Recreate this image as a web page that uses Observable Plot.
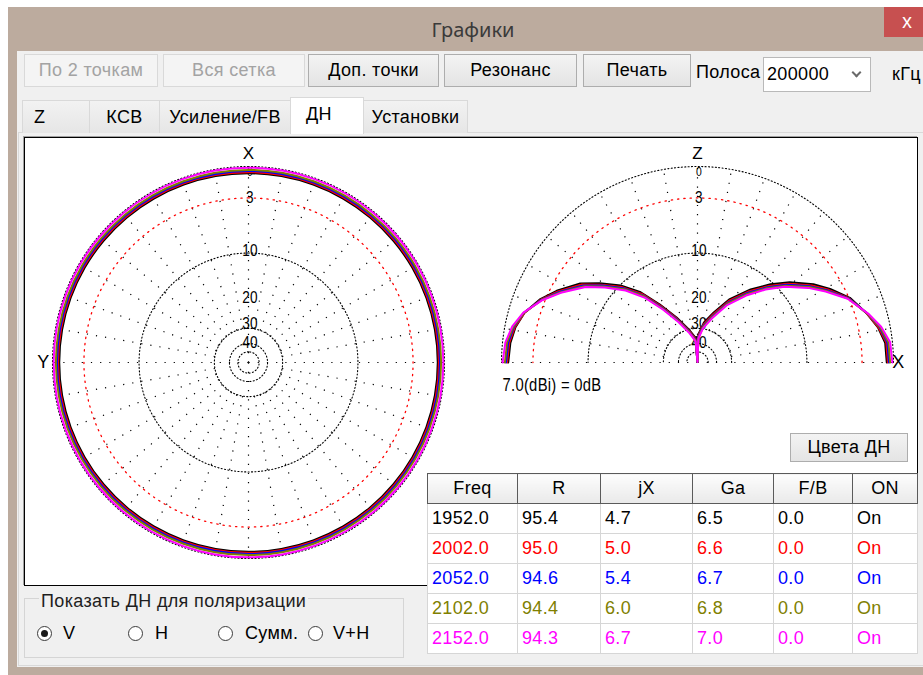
<!DOCTYPE html>
<html><head><meta charset="utf-8">
<script src="https://cdn.jsdelivr.net/npm/d3@7"></script>
<script src="https://cdn.jsdelivr.net/npm/@observablehq/plot@0.6"></script>
<style>
html,body{margin:0;padding:0}
body{width:923px;height:675px;overflow:hidden;background:#fff;position:relative;font-family:"Liberation Sans",Arial,sans-serif;font-size:18px;letter-spacing:0.35px;color:#000}
.a{position:absolute;white-space:nowrap;box-sizing:border-box}
.btn{top:54px;height:33px;border:1px solid #adadad;background:linear-gradient(#f3f3f3,#e4e4e4);text-align:center;line-height:31px}
.btn.dis{border-color:#d9d9d9;background:#f4f4f4;color:#a3a3a3}
.tab{top:100px;height:33px;border:1px solid #d9d9d9;border-bottom:none;background:linear-gradient(#f2f2f2,#e6e6e6);text-align:center;line-height:33px}
.tab.act{top:97px;height:37px;background:#fff;z-index:3;line-height:32px;text-align:left;padding-left:15px}
#tbl{position:absolute;left:427px;top:473px;border-collapse:collapse;background:#fff;z-index:4;border:1px solid #9a9a9a}
#tbl th{height:29px;border:1px solid #5a5a5a;background:linear-gradient(#fdfdfd,#e9e9e9);font-weight:normal;text-align:center;padding:0}
#tbl td{height:29px;border:1px solid #d6d6d6;padding:0 0 0 4px}
.radio{width:15px;height:15px;border:1px solid #3c3c3c;border-radius:50%;background:#fff;top:626px}
.radio.on::after{content:"";position:absolute;left:3px;top:3px;width:7px;height:7px;border-radius:50%;background:#1a1a1a}
</style></head>
<body>
<div class="a" style="left:8px;top:7px;width:940px;height:668px;background:#bcab9e"></div>
<div class="a" style="left:0;top:15px;width:946px;text-align:center;font-family:'Noto Sans','Open Sans',sans-serif;font-size:20px;letter-spacing:0;color:#3a3a3a;line-height:30px">Графики</div>
<div class="a" style="left:884px;top:7px;width:46px;height:30px;background:#c75050;color:#fff;text-align:center;line-height:28px;font-size:19px;letter-spacing:0;font-family:'Noto Sans',sans-serif">x</div>
<div class="a" style="left:17px;top:51px;width:930px;height:616px;background:#f0f0f0"></div>

<div class="a btn dis" style="left:24px;width:134px">По 2 точкам</div>
<div class="a btn dis" style="left:163px;width:142px">Вся сетка</div>
<div class="a btn" style="left:308px;width:131px">Доп. точки</div>
<div class="a btn" style="left:444px;width:133px">Резонанс</div>
<div class="a btn" style="left:583px;width:108px">Печать</div>
<div class="a" style="left:696px;top:60px;line-height:24px">Полоса</div>
<div class="a" style="left:763px;top:57px;width:108px;height:35px;border:1px solid #b9b9b9;background:#fff;padding-left:3px;line-height:33px">200000</div>
<div class="a" style="left:853px;top:69px;width:7px;height:7px;border-right:2px solid #6a6a6a;border-bottom:2px solid #6a6a6a;transform:rotate(45deg)"></div>
<div class="a" style="left:892px;top:62px;line-height:24px">кГц</div>

<div class="a" style="left:18px;top:132px;width:930px;height:534px;border:1px solid #d9d9d9;background:#f0f0f0"></div>
<div class="a tab" style="left:22px;width:68px;text-align:left;padding-left:11px">Z</div>
<div class="a tab" style="left:89px;width:71px">КСВ</div>
<div class="a tab" style="left:159px;width:132px">Усиление/FB</div>
<div class="a tab act" style="left:290px;width:74px">ДН</div>
<div class="a tab" style="left:363px;width:105px">Установки</div>

<div id="panel" class="a" style="left:24px;top:137px;width:894px;height:449px;border:1px solid #000;background:#fff;overflow:hidden;box-shadow:-1px -1px 0 #a0a0a0"></div>
<div class="a btn" style="left:790px;top:433px;width:118px;height:29px;line-height:27px;z-index:4">Цвета ДН</div>

<table id="tbl"><colgroup id="cols"></colgroup><thead><tr id="hdr"></tr></thead><tbody id="body"></tbody></table>

<div class="a" style="left:24px;top:598px;width:380px;height:60px;border:1px solid #d5d5d5"></div>
<div class="a" style="left:39px;top:590px;background:#f0f0f0;padding:0 2px;line-height:22px;color:#1e1e1e">Показать ДН для поляризации</div>
<div class="a radio on" style="left:37px"></div><div class="a" style="left:63px;top:622px;line-height:22px">V</div>
<div class="a radio" style="left:128px"></div><div class="a" style="left:155px;top:622px;line-height:22px">H</div>
<div class="a radio" style="left:218px"></div><div class="a" style="left:245px;top:622px;line-height:22px">Сумм.</div>
<div class="a radio" style="left:308px"></div><div class="a" style="left:333px;top:622px;line-height:22px">V+H</div>

<script>
// ---------------- data ----------------
const freqs = ["1952.0", "2002.0", "2052.0", "2102.0", "2152.0"];
const resistances = ["95.4", "95.0", "94.6", "94.4", "94.3"];
const reactances = ["4.7", "5.0", "5.4", "6.0", "6.7"];
const gains = ["6.5", "6.6", "6.7", "6.8", "7.0"];
const frontBack = ["0.0", "0.0", "0.0", "0.0", "0.0"];
const onFlags = ["On", "On", "On", "On", "On"];
const columns = ["Freq", "R", "jX", "Ga", "F/B", "ON"];
const seriesColors = ["#000000", "#ff0000", "#0000ff", "#808000", "#ff00ff"];
const refGain = "7.0";

// polar grid (dB, ARRL log scale)
const ringDb = [0, -3, -10, -30, -40, -50];
const tickDb = [0, -3, -10, -20, -30, -40];
const tickLabels = ["0", "3", "10", "20", "30", "40"];

// azimuth pattern (angle from X toward Y, deg) per frequency, dB rel. 7.0 dBi
const azAngles = [0,10,20,30,40,50,60,70,80,90,100,110,120,130,140,150,160,170,180,190,200,210,220,230,240,250,260,270,280,290,300,310,320,330,340,350];
const az1952 = [-0.6,-0.6,-0.6,-0.6,-0.6,-0.6,-0.6,-0.6,-0.6,-0.6,-0.6,-0.6,-0.6,-0.6,-0.6,-0.6,-0.6,-0.6,-0.6,-0.6,-0.6,-0.6,-0.6,-0.6,-0.6,-0.6,-0.6,-0.6,-0.6,-0.6,-0.6,-0.6,-0.6,-0.6,-0.6,-0.6];
const az2002 = [-0.5,-0.5,-0.5,-0.5,-0.5,-0.5,-0.5,-0.5,-0.5,-0.5,-0.5,-0.5,-0.5,-0.5,-0.5,-0.5,-0.5,-0.5,-0.5,-0.5,-0.5,-0.5,-0.5,-0.5,-0.5,-0.5,-0.5,-0.5,-0.5,-0.5,-0.5,-0.5,-0.5,-0.5,-0.5,-0.5];
const az2052 = [-0.4,-0.4,-0.4,-0.4,-0.4,-0.4,-0.4,-0.4,-0.4,-0.4,-0.4,-0.4,-0.4,-0.4,-0.4,-0.4,-0.4,-0.4,-0.4,-0.4,-0.4,-0.4,-0.4,-0.4,-0.4,-0.4,-0.4,-0.4,-0.4,-0.4,-0.4,-0.4,-0.4,-0.4,-0.4,-0.4];
const az2102 = [-0.3,-0.3,-0.3,-0.3,-0.3,-0.3,-0.3,-0.3,-0.3,-0.3,-0.3,-0.3,-0.3,-0.3,-0.3,-0.3,-0.3,-0.3,-0.3,-0.3,-0.3,-0.3,-0.3,-0.3,-0.3,-0.3,-0.3,-0.3,-0.3,-0.3,-0.3,-0.3,-0.3,-0.3,-0.3,-0.3];
const az2152 = [-0.1,-0.1,-0.1,-0.1,-0.1,-0.1,-0.1,-0.1,-0.1,-0.1,-0.1,-0.1,-0.1,-0.1,-0.1,-0.1,-0.1,-0.1,-0.1,-0.1,-0.1,-0.1,-0.1,-0.1,-0.1,-0.1,-0.1,-0.1,-0.1,-0.1,-0.1,-0.1,-0.1,-0.1,-0.1,-0.1];

// elevation pattern (angle from +X through Z, deg) per frequency, dB rel. 7.0 dBi
const elAngles = [0, 6, 11, 16, 23, 29, 34, 41, 47, 54, 63, 72, 81, 88, 90, 95, 105, 115, 123, 129, 135, 141, 146, 153, 158, 164, 169, 174, 180];
const el1952 = [-0.6, -0.65, -1.1, -1.8, -2.9, -4.4, -5.8, -8.1, -10.4, -13.3, -17.4, -22.6, -27.2, -33.2, -99, -35.4, -29.8, -23.6, -17.9, -13.3, -10.1, -7.6, -5.6, -3.7, -2.5, -1.45, -0.95, -0.7, -0.6];
const el2002 = [-0.5, -0.55, -1.05, -1.8, -3.0, -4.6, -6.05, -8.4, -10.75, -13.7, -17.9, -23.2, -27.9, -34.0, -99, -36.15, -30.45, -24.1, -18.35, -13.7, -10.45, -7.9, -5.85, -3.85, -2.6, -1.45, -0.9, -0.6, -0.5];
const el2052 = [-0.4, -0.45, -0.95, -1.75, -3.05, -4.75, -6.25, -8.65, -11.05, -14.1, -18.4, -23.8, -28.6, -34.8, -99, -36.9, -31.05, -24.6, -18.8, -14.05, -10.7, -8.1, -6.05, -4.0, -2.65, -1.4, -0.8, -0.5, -0.4];
const el2102 = [-0.3, -0.35, -0.9, -1.75, -3.1, -4.85, -6.4, -8.85, -11.3, -14.4, -18.7, -24.2, -29.1, -35.4, -99, -37.45, -31.5, -24.95, -19.1, -14.3, -10.95, -8.3, -6.2, -4.1, -2.7, -1.4, -0.75, -0.4, -0.3];
const el2152 = [-0.1, -0.2, -0.8, -1.7, -3.15, -5.0, -6.6, -9.1, -11.6, -14.8, -19.2, -24.8, -29.8, -36.2, -99, -38.2, -32.1, -25.45, -19.5, -14.7, -11.25, -8.55, -6.4, -4.2, -2.75, -1.35, -0.65, -0.25, -0.1];

const azSeries = [az1952, az2002, az2052, az2102, az2152];
const elSeries = [el1952, el2002, el2052, el2102, el2152];

// ---------------- table ----------------
const colWidths = [90, 83, 92, 81, 79, 65];
const cols = document.getElementById("cols");
colWidths.forEach(w => { const c = document.createElement("col"); c.style.width = w + "px"; cols.appendChild(c); });
const hdr = document.getElementById("hdr");
columns.forEach(c => { const th = document.createElement("th"); th.textContent = c; hdr.appendChild(th); });
const tbody = document.getElementById("body");
freqs.forEach((f, i) => {
  const tr = document.createElement("tr");
  [f, resistances[i], reactances[i], gains[i], frontBack[i], onFlags[i]].forEach(v => {
    const td = document.createElement("td"); td.textContent = v; td.style.color = seriesColors[i]; tr.appendChild(td);
  });
  tbody.appendChild(tr);
});

// ---------------- polar charts ----------------
const SIZE = 448, RPX = 196, D = (SIZE / 2) / RPX;
const rOf = db => Math.pow(0.89, -db / 2);
function polar(angleDeg, db, orient) {
  const a = angleDeg * Math.PI / 180, r = rOf(db);
  return orient === "az" ? {x: -r * Math.sin(a), y: r * Math.cos(a)} : {x: r * Math.cos(a), y: r * Math.sin(a)};
}
const labelFont = '"Liberation Sans",Arial,sans-serif';
const tickDy = [5, 0, -3, -4, -5, -1];
const tickSize = [13, 17, 17, 17, 17, 17];

function gridMarks(orient) {
  const maxAng = orient === "az" ? 360 : 180;
  const ringPts = [];
  for (const db of ringDb) for (let a = 0; a <= maxAng; a += 1) ringPts.push({db, ...polar(a, db, orient)});
  const spokes = [];
  for (let a = 0; a < (orient === "az" ? 360 : 181); a += 10) {
    const p0 = polar(a, a % 90 === 0 ? -200 : -30, orient), p1 = polar(a, 0, orient);
    spokes.push({x1: p0.x, y1: p0.y, x2: p1.x, y2: p1.y});
  }
  const marks = [
    Plot.link(spokes, {x1: "x1", y1: "y1", x2: "x2", y2: "y2", stroke: "#000", strokeWidth: 1.2, strokeDasharray: "1.2,8"}),
    Plot.line(ringPts.filter(d => d.db !== -3), {x: "x", y: "y", z: "db", stroke: "#000", strokeWidth: 1.1, strokeDasharray: "1.1,2.3"}),
    Plot.line(ringPts.filter(d => d.db === -3), {x: "x", y: "y", z: "db", stroke: "#ff0000", strokeWidth: 1.3, strokeDasharray: "1.3,5"})
  ];
  tickDb.forEach((db, i) => {
    marks.push(Plot.text([db], {x: () => 0, y: d => rOf(d), text: () => tickLabels[i], dx: 1.5, dy: tickDy[i], fill: "#000", fontSize: tickSize[i]}));
  });
  return marks;
}

function chart(orient) {
  const marks = gridMarks(orient);
  if (orient === "az") {
    marks.push(Plot.text(["X"], {frameAnchor: "top", dy: 8, text: d => d, fontSize: 17, textAnchor: "middle"}));
    marks.push(Plot.text(["Y"], {frameAnchor: "left", dx: 19, text: d => d, fontSize: 18, textAnchor: "middle"}));
    azSeries.forEach((vals, i) => {
      const pts = azAngles.map((a, j) => polar(a, vals[j], "az"));
      marks.push(Plot.line(pts, {x: "x", y: "y", stroke: seriesColors[i], strokeWidth: 2, curve: "catmull-rom-closed"}));
    });
  } else {
    marks.push(Plot.text(["Z"], {frameAnchor: "top", dy: 8, text: d => d, fontSize: 17, textAnchor: "middle"}));
    marks.push(Plot.text(["X"], {frameAnchor: "right", dx: -23, text: d => d, fontSize: 18, textAnchor: "middle"}));
    marks.push(Plot.text([refGain + "(dBi) = 0dB"], {frameAnchor: "left", dx: 29, dy: 23, textAnchor: "start", text: d => d, fontSize: 18.5}));
    elSeries.forEach((vals, i) => {
      const pts = elAngles.map((a, j) => polar(a, vals[j], "el"));
      marks.push(Plot.line(pts, {x: "x", y: "y", stroke: seriesColors[i], strokeWidth: 2}));
    });
  }
  const svg = Plot.plot({
    width: SIZE, height: SIZE, margin: 0,
    x: {domain: [-D, D], axis: null},
    y: {domain: [-D, D], axis: null},
    style: {background: "transparent", fontFamily: labelFont, fontSize: "17px", overflow: "visible"},
    marks
  });
  // narrow lettering like the original program (labels only, not the axis letters)
  svg.querySelectorAll("text").forEach(t => {
    if (/^[XYZ]$/.test(t.textContent)) return;
    const x = +t.getAttribute("x") || 0, y = +t.getAttribute("y") || 0;
    const tr = t.getAttribute("transform") || "";
    t.setAttribute("transform", `${tr} translate(${x},${y}) scale(0.8,1) translate(${-x},${-y})`);
  });
  return svg;
}

const panel = document.getElementById("panel");
const left = chart("az");
left.style.position = "absolute"; left.style.left = "-1px"; left.style.top = "0px";
panel.appendChild(left);
const right = chart("el");
right.style.position = "absolute"; right.style.left = "448px"; right.style.top = "0px";
panel.appendChild(right);
</script>
</body></html>
